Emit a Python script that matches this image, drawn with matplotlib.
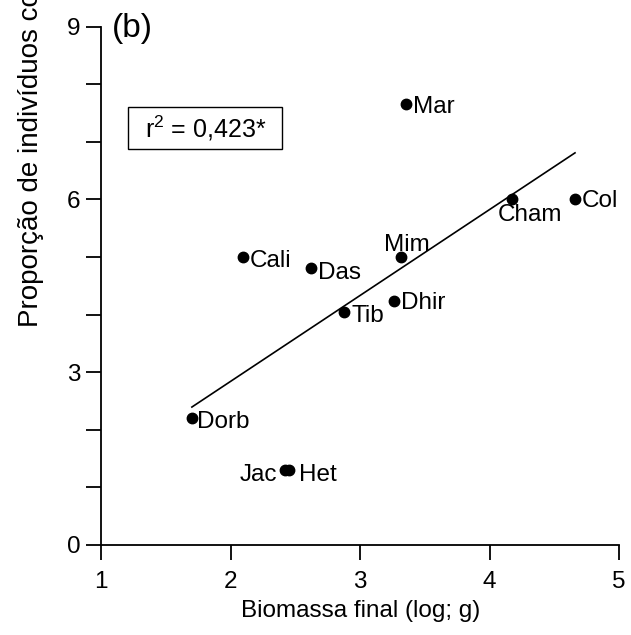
import numpy as np
import matplotlib
matplotlib.use("Agg")
import matplotlib.pyplot as plt
from matplotlib.patches import Rectangle
from matplotlib.transforms import IdentityTransform

plt.rcParams['font.family'] = ['Liberation Sans', 'DejaVu Sans']
plt.rcParams['mathtext.fontset'] = 'custom'
plt.rcParams['mathtext.rm'] = 'Liberation Sans'
plt.rcParams['mathtext.it'] = 'Liberation Sans'

# Species codes and their values
species = ["Mar", "Cham", "Col", "Mim", "Cali", "Das", "Tib", "Dhir", "Dorb", "Jac", "Het"]
biomassa = [3.355, 4.17, 4.66, 3.317, 2.097, 2.62, 2.876, 3.263, 1.70, 2.42, 2.454]
proporcao = [7.66, 6.0, 6.0, 5.0, 5.0, 4.8, 4.05, 4.24, 2.2, 1.3, 1.3]

# Label placement per species: (dx pt, dy pt, ha, va)
label_pos = {
    "Mar": (5, -2, "left", "center"),
    "Cham": (13, -3, "center", "top"),
    "Col": (5, -1, "left", "center"),
    "Mim": (4, 1, "center", "bottom"),
    "Cali": (5, -3, "left", "center"),
    "Das": (5, -3, "left", "center"),
    "Tib": (5, -3, "left", "center"),
    "Dhir": (5, -2, "left", "center"),
    "Dorb": (4, -3, "left", "center"),
    "Jac": (-6, -4, "right", "center"),
    "Het": (7, -4, "left", "center"),
}

xticks = [1, 2, 3, 4, 5]
yticks_major = [0, 3, 6, 9]
yticks_minor = [1, 2, 4, 5, 7, 8]
r2_text = r"$\mathrm{r}^{2}$ = 0,423*"

FS = 17.5

fig = plt.figure(figsize=(6.31, 6.35), dpi=100)
ax = fig.add_axes([0.1605, 0.1425, 0.8205, 0.815])

x = np.array(biomassa)
y = np.array(proporcao)

# Least-squares fit across the observed range
slope, intercept = np.polyfit(x, y, 1)
xf = np.array([x.min(), x.max()])
ax.plot(xf, slope * xf + intercept, color="black", lw=1.2, zorder=2)

ax.plot(x, y, "o", color="black", ms=7.5, zorder=3, clip_on=False)

for name, xi, yi in zip(species, biomassa, proporcao):
    dx, dy, ha, va = label_pos[name]
    ax.annotate(name, (xi, yi), xytext=(dx, dy), textcoords="offset points",
                ha=ha, va=va, fontsize=FS, zorder=4)

ax.set_xlim(1, 5)
ax.set_ylim(0, 9)
ax.set_xticks(xticks)
ax.set_yticks(yticks_major)
ax.set_yticks(yticks_minor, minor=True)

for s in ["top", "right"]:
    ax.spines[s].set_visible(False)
for s in ["left", "bottom"]:
    ax.spines[s].set_linewidth(1.3)

ax.tick_params(axis="both", which="both", direction="out", length=11, width=1.3,
               labelsize=FS)
ax.tick_params(axis="x", pad=8)
ax.tick_params(axis="y", pad=4)

ax.set_xlabel("Biomassa final (log; g)", fontsize=FS, labelpad=5)

fig.text(38 / 631, (635 - 327) / 635, "Proporção de indivíduos co",
         rotation=90, rotation_mode="anchor", ha="left", va="baseline",
         fontsize=20)

# r² statistic in a framed box, wider padding left/right than top/bottom
r2 = ax.text(1.803, 7.245, r2_text, fontsize=18, ha="center", va="center", zorder=5)
fig.canvas.draw()
bb = r2.get_window_extent()
pad_x_px, box_h_px = 16.5, 42
cy = (bb.y0 + bb.y1) / 2
frame = Rectangle((bb.x0 - pad_x_px, cy - box_h_px / 2), bb.width + 2 * pad_x_px, box_h_px,
                  transform=IdentityTransform(), fill=False, ec="black", lw=1.0)
fig.add_artist(frame)

ax.text(1.24, 8.98, "(b)", fontsize=24, ha="center", va="center", clip_on=False)

fig.savefig("out.png", dpi=100)
